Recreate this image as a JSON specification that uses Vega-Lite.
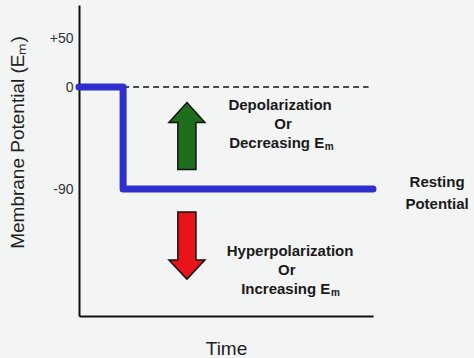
{
  "$schema": "https://vega.github.io/schema/vega-lite/v6.json",
  "width": 294,
  "height": 311,
  "autosize": {"type": "none"},
  "padding": {"left": 79, "top": 5, "right": 101, "bottom": 42},
  "background": "#f2f5f4",
  "config": {"view": {"stroke": null}, "font": "Liberation Sans"},
  "datasets": {
    "potential": [
      {"step": 1, "time": 0, "em": 0},
      {"step": 2, "time": 15, "em": 0},
      {"step": 3, "time": 15, "em": -90},
      {"step": 4, "time": 100, "em": -90}
    ],
    "dashed": [{"time": 15, "time2": 98.5, "em": 0}],
    "centerText": [
      {"time": 68.4, "em": -15.9, "label": "Depolarization"},
      {"time": 69.4, "em": -32.6, "label": "Or"},
      {"time": 71.8, "em": -144.7, "label": "Hyperpolarization"},
      {"time": 70.7, "em": -161.5, "label": "Or"},
      {"time": 121.8, "em": -83.8, "label": "Resting"},
      {"time": 121.8, "em": -103.2, "label": "Potential"}
    ],
    "rightText": [
      {"time": 83.4, "em": -49.4, "label": "Decreasing E"},
      {"time": 85.5, "em": -178.2, "label": "Increasing E"}
    ],
    "subText": [
      {"time": 83.6, "em": -52.6, "label": "m"},
      {"time": 85.7, "em": -181.4, "label": "m"}
    ],
    "upArrow": [{"time": 36.7, "em": -43.2}],
    "downArrow": [{"time": 36.7, "em": -139.9}]
  },
  "layer": [
    {
      "data": {"name": "dashed"},
      "mark": {"type": "rule", "color": "#111111", "strokeWidth": 1.5, "strokeDash": [6, 4]},
      "encoding": {
        "x": {"field": "time", "type": "quantitative", "scale": {"domain": [0, 100], "nice": false, "zero": false},
          "axis": {"labels": false, "ticks": false, "grid": false, "domainColor": "#111111", "domainWidth": 2,
            "title": "Time", "titleFontSize": 19, "titleFontWeight": "normal", "titleColor": "#222222",
            "titleX": 147, "titleY": 32, "titleBaseline": "middle", "titleAlign": "center"}},
        "x2": {"field": "time2"},
        "y": {"field": "em", "type": "quantitative", "scale": {"domain": [-202, 72.4], "nice": false, "zero": false},
          "axis": {"values": [43, 0, -90], "labelExpr": "datum.value > 10 ? '+50' : '' + datum.value",
            "ticks": false, "grid": false, "domainColor": "#111111", "domainWidth": 2,
            "labelFontSize": 14, "labelColor": "#333333", "labelPadding": 6,
            "title": "Membrane Potential (Eₘ)", "titleFontSize": 19, "titleFontWeight": "normal", "titleColor": "#222222",
            "titleX": -62, "titleY": 137, "titleBaseline": "middle", "titleAlign": "center"}}
      }
    },
    {
      "data": {"name": "potential"},
      "mark": {"type": "line", "color": "#2e2ecf", "strokeWidth": 7, "strokeCap": "round", "strokeJoin": "round"},
      "encoding": {
        "x": {"field": "time", "type": "quantitative"},
        "y": {"field": "em", "type": "quantitative"},
        "order": {"field": "step", "type": "quantitative"}
      }
    },
    {
      "data": {"name": "upArrow"},
      "mark": {"type": "point", "filled": true, "fill": "#1e6e1e", "stroke": "#111111", "strokeWidth": 1.5, "opacity": 1, "fillOpacity": 1,
        "size": 4489, "shape": "M0,-1 L0.537,-0.4 L0.27,-0.4 L0.27,1 L-0.27,1 L-0.27,-0.4 L-0.537,-0.4 Z"},
      "encoding": {
        "x": {"field": "time", "type": "quantitative"},
        "y": {"field": "em", "type": "quantitative"}
      }
    },
    {
      "data": {"name": "downArrow"},
      "mark": {"type": "point", "filled": true, "fill": "#e8141a", "stroke": "#111111", "strokeWidth": 1.5, "opacity": 1, "fillOpacity": 1,
        "size": 4489, "shape": "M0,1 L0.537,0.43 L0.27,0.43 L0.27,-1 L-0.27,-1 L-0.27,0.43 L-0.537,0.43 Z"},
      "encoding": {
        "x": {"field": "time", "type": "quantitative"},
        "y": {"field": "em", "type": "quantitative"}
      }
    },
    {
      "data": {"name": "centerText"},
      "mark": {"type": "text", "align": "center", "baseline": "middle", "fontSize": 15, "fontWeight": "bold", "color": "#1a1a1a"},
      "encoding": {
        "x": {"field": "time", "type": "quantitative"},
        "y": {"field": "em", "type": "quantitative"},
        "text": {"field": "label"}
      }
    },
    {
      "data": {"name": "rightText"},
      "mark": {"type": "text", "align": "right", "baseline": "middle", "fontSize": 15, "fontWeight": "bold", "color": "#1a1a1a"},
      "encoding": {
        "x": {"field": "time", "type": "quantitative"},
        "y": {"field": "em", "type": "quantitative"},
        "text": {"field": "label"}
      }
    },
    {
      "data": {"name": "subText"},
      "mark": {"type": "text", "align": "left", "baseline": "middle", "fontSize": 10, "fontWeight": "bold", "color": "#1a1a1a"},
      "encoding": {
        "x": {"field": "time", "type": "quantitative"},
        "y": {"field": "em", "type": "quantitative"},
        "text": {"field": "label"}
      }
    }
  ]
}
